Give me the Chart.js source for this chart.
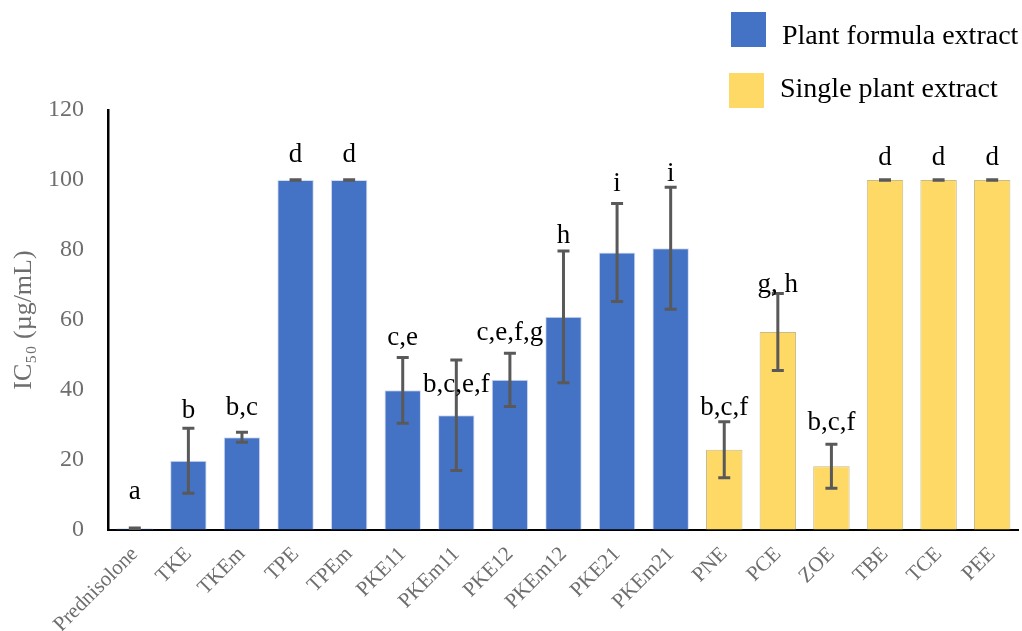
<!DOCTYPE html>
<html>
<head>
<meta charset="utf-8">
<script src="https://cdn.jsdelivr.net/npm/chart.js@4.4.1/dist/chart.umd.min.js"></script>
<style>
    html, body { margin: 0; padding: 0; background: #ffffff; }
    #wrap { width: 1022px; height: 631px; position: relative; }
</style>
</head>
<body>
<div id="wrap"><canvas id="chart"></canvas></div>
<script>
// Sample names along the x axis
const samples = ['Prednisolone', 'TKE', 'TKEm', 'TPE', 'TPEm', 'PKE11', 'PKEm11', 'PKE12', 'PKEm12',
    'PKE21', 'PKEm21', 'PNE', 'PCE', 'ZOE', 'TBE', 'TCE', 'PEE'];

// IC50 means (µg/mL), split by group
const formulaValues = [0.5, 19.8, 26.5, 100, 100, 39.9, 32.8, 42.9, 60.9, 79.3, 80.5,
    null, null, null, null, null, null];
const singleValues = [null, null, null, null, null, null, null, null, null, null, null,
    22.9, 56.6, 18.2, 100, 100, 100];

// +/- error for each sample
const errors = [0.1, 9.3, 1.4, 0.1, 0.1, 9.4, 15.8, 7.6, 18.8, 14, 17.4, 8, 11, 6.3, 0.1, 0.1, 0.1];

// significance letters and the height (in µg/mL) where each one sits
const letters = ['a', 'b', 'b,c', 'd', 'd', 'c,e', 'b,c,e,f', 'c,e,f,g', 'h', 'i', 'i',
    'b,c,f', 'g, h', 'b,c,f', 'd', 'd', 'd'];
const letterHeights = [8.9, 31.9, 32.9, 105.2, 105.2, 52.9, 39.5, 54.3, 82.1, 96.9, 99.8,
    32.9, 68.1, 28.6, 104.2, 104.2, 104.4];

const yTicks = [0, 20, 40, 60, 80, 100, 120];

const BLUE = '#4472C4';
const YELLOW = '#FFD966';
const SERIF = '"Liberation Serif", "Times New Roman", serif';

// error bars drawn on top of the bars
const errorBars = {
    id: 'errorBars',
    afterDatasetsDraw(chart) {
        const ctx = chart.ctx;
        const y = chart.scales.y;
        ctx.save();
        ctx.strokeStyle = '#595959';
        ctx.lineWidth = 3;
        chart.data.datasets.forEach((ds, di) => {
            const meta = chart.getDatasetMeta(di);
            meta.data.forEach((bar, i) => {
                const v = ds.data[i];
                if (v == null) return;
                const top = y.getPixelForValue(v + errors[i]);
                const bottom = y.getPixelForValue(Math.max(v - errors[i], 0));
                ctx.beginPath();
                ctx.moveTo(bar.x, top);
                ctx.lineTo(bar.x, bottom);
                ctx.moveTo(bar.x - 6, top);
                ctx.lineTo(bar.x + 6, top);
                ctx.moveTo(bar.x - 6, bottom);
                ctx.lineTo(bar.x + 6, bottom);
                ctx.stroke();
            });
        });
        ctx.restore();
    }
};

// letters above the bars
const letterLabels = {
    id: 'letterLabels',
    afterDatasetsDraw(chart) {
        const ctx = chart.ctx;
        const x = chart.scales.x;
        const y = chart.scales.y;
        ctx.save();
        ctx.font = '27px ' + SERIF;
        ctx.fillStyle = '#000000';
        ctx.textAlign = 'center';
        ctx.textBaseline = 'alphabetic';
        letters.forEach((txt, i) => {
            ctx.fillText(txt, x.getPixelForValue(i), y.getPixelForValue(letterHeights[i]));
        });
        ctx.restore();
    }
};

// legend box in the top right corner
const cornerLegend = {
    id: 'cornerLegend',
    afterDraw(chart) {
        const ctx = chart.ctx;
        ctx.save();
        ctx.font = '28px ' + SERIF;
        ctx.textBaseline = 'alphabetic';
        ctx.textAlign = 'left';
        const rows = [{ x: 731, y: 12, tx: 782, ty: 44 }, { x: 729, y: 73, tx: 780, ty: 97 }];
        chart.data.datasets.forEach((ds, i) => {
            const r = rows[i];
            ctx.fillStyle = ds.backgroundColor;
            ctx.fillRect(r.x, r.y, 35, 35);
            ctx.fillStyle = '#000000';
            ctx.fillText(ds.label, r.tx, r.ty);
        });
        ctx.restore();
    }
};

new Chart(document.getElementById('chart'), {
    type: 'bar',
    data: {
        labels: samples,
        datasets: [
            {
                label: 'Plant formula extract',
                data: formulaValues,
                backgroundColor: BLUE,
                borderColor: 'rgba(200, 210, 235, 0.8)',
                borderWidth: 1
            },
            {
                label: 'Single plant extract',
                data: singleValues,
                backgroundColor: YELLOW,
                borderColor: '#c8bb8c',
                borderWidth: 1
            }
        ]
    },
    options: {
        responsive: true,
        maintainAspectRatio: false,
        animation: false,
        datasets: {
            bar: {
                grouped: false,
                categoryPercentage: 1,
                barPercentage: 0.68
            }
        },
        layout: {
            padding: { top: 110, left: 4, right: 0, bottom: 0 }
        },
        plugins: {
            legend: { display: false },
            tooltip: { enabled: false }
        },
        scales: {
            x: {
                afterFit(axis) { axis.height = 101; },
                grid: { drawOnChartArea: false, drawTicks: false },
                border: { display: true, color: '#000000', width: 2 },
                ticks: {
                    autoSkip: false,
                    minRotation: 45,
                    maxRotation: 45,
                    padding: 12,
                    color: '#6e6e6e',
                    font: { family: SERIF, size: 21 }
                }
            },
            y: {
                min: 0,
                max: 120,
                afterBuildTicks(axis) {
                    axis.ticks = yTicks.map(v => ({ value: v }));
                },
                afterFit(axis) { axis.width = 104; },
                grid: { drawOnChartArea: false, drawTicks: false },
                border: { display: true, color: '#000000', width: 2.5 },
                ticks: {
                    padding: 24,
                    color: '#6e6e6e',
                    font: { family: SERIF, size: 24 }
                },
                title: {
                    display: true,
                    text: 'IC₅₀ (µg/mL)',
                    color: '#6e6e6e',
                    font: { family: SERIF, size: 26 },
                    padding: { top: 5, bottom: 6 }
                }
            }
        }
    },
    plugins: [errorBars, letterLabels, cornerLegend]
});
</script>
</body>
</html>
